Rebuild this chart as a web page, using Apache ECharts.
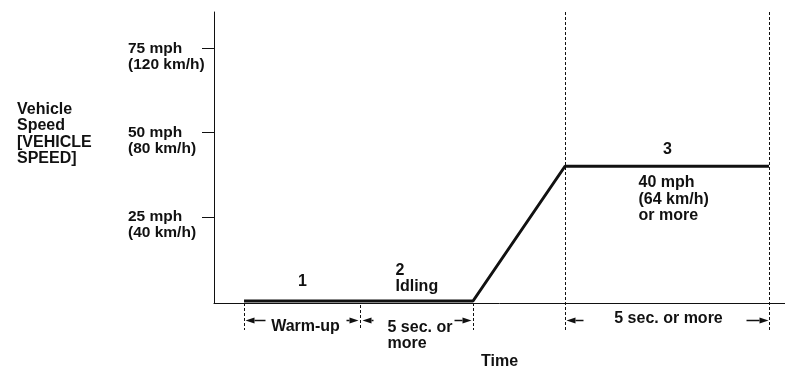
<!DOCTYPE html>
<html>
<head>
<meta charset="utf-8">
<script src="https://cdn.jsdelivr.net/npm/echarts@6/dist/echarts.min.js"></script>
<style>
html,body{margin:0;padding:0;background:#fff;}
#chart{width:785px;height:380px;}
</style>
</head>
<body>
<div id="chart"></div>
<script>
// ---- data ----
const timeValues = [3.0, 25.9, 35.1, 55.5];        // time (arbitrary units)
const speedValues = [0, 0, 40, 40];                // mph
const phaseBounds = [3.0, 14.6, 25.9, 35.1, 55.5]; // phase boundaries in time units
const yTickValues = [25, 50, 75];
const yTickLabels = ['25 mph\n(40 km/h)', '50 mph\n(80 km/h)', '75 mph\n(120 km/h)'];
const yAxisTitle = 'Vehicle\nSpeed\n[VEHICLE\nSPEED]';
const xAxisTitle = 'Time';
const targetSpeedLabel = '40 mph\n(64 km/h)\nor more';

const FONT = 'bold 16px "Liberation Sans", Arial, sans-serif';
const INK = '#111';

const chart = echarts.init(document.getElementById('chart'), null, {renderer: 'canvas'});
const lineData = timeValues.map((t, i) => [t, speedValues[i]]);

chart.setOption({
  animation: false,
  backgroundColor: '#fff',
  grid: {left: 214, right: 0, top: 12, bottom: 77},
  xAxis: {
    type: 'value', min: 0, max: 57.1,
    axisLine: {show: true, onZero: false, lineStyle: {color: INK, width: 1}},
    axisTick: {show: false}, axisLabel: {show: false}, splitLine: {show: false},
    name: xAxisTitle, nameLocation: 'middle', nameGap: 51,
    nameTextStyle: {color: INK, fontSize: 16, fontWeight: 'bold', fontFamily: '"Liberation Sans", Arial'}
  },
  yAxis: {
    type: 'value', min: -0.6, max: 85.8,
    axisLine: {show: true, lineStyle: {color: INK, width: 1}},
    axisTick: {show: true, length: 12, customValues: yTickValues, lineStyle: {color: INK, width: 1}},
    axisLabel: {
      customValues: yTickValues, margin: 86, align: 'left', verticalAlign: 'middle',
      lineHeight: 16,
      color: INK, fontSize: 15.5, fontWeight: 'bold', fontFamily: '"Liberation Sans", Arial',
      formatter: v => { const i = yTickValues.indexOf(v); return i >= 0 ? '\n' + yTickLabels[i] : ''; }
    },
    splitLine: {show: false}
  },
  series: [{
    type: 'line', data: lineData, symbol: 'none', silent: true,
    lineStyle: {color: INK, width: 3}
  }]
});

// ---- annotations derived from the data via the axes ----
const px = phaseBounds.map(t => Math.round(chart.convertToPixel({xAxisIndex: 0}, t)) + 0.5);
const yTop = chart.convertToPixel({yAxisIndex: 0}, 85.8);
const yAxisLine = chart.convertToPixel({yAxisIndex: 0}, -0.6);
const ySpeed = chart.convertToPixel({yAxisIndex: 0}, speedValues[2]);
const dashBottom = 330;
const arrowY = 320.5;

const g = [];
function dash(x, y1, y2) {
  g.push({type: 'line', silent: true, shape: {x1: x, y1: y1, x2: x, y2: y2},
    style: {stroke: INK, lineWidth: 1, lineDash: [3, 2]}});
}
function arrow(tipX, tailX) {
  const dir = tipX > tailX ? 1 : -1;
  const headLen = 9;
  g.push({type: 'line', silent: true, shape: {x1: tailX, y1: arrowY, x2: tipX - dir * headLen, y2: arrowY},
    style: {stroke: INK, lineWidth: 1.5}});
  g.push({type: 'polygon', silent: true,
    shape: {points: [[tipX, arrowY], [tipX - dir * headLen, arrowY - 3], [tipX - dir * headLen, arrowY + 3]]},
    style: {fill: INK}});
}
function text(str, x, y, align, vAlign, lh) {
  g.push({type: 'text', silent: true, x: x, y: y,
    style: {text: str, fill: INK, font: FONT, align: align || 'center', verticalAlign: vAlign || 'middle', lineHeight: lh || 16}});
}

// short dashed lines below axis
dash(px[0], yAxisLine, dashBottom);
dash(px[1], yAxisLine + 2, dashBottom);
dash(px[2], yAxisLine, dashBottom);
// tall dashed lines
dash(px[3], yTop, dashBottom);
dash(px[4], yTop, dashBottom);

// arrows
arrow(px[0] + 1, px[0] + 21);
arrow(px[1] - 2, px[1] - 14);
arrow(px[1] + 2, px[1] + 13);
arrow(px[2] - 2, px[2] - 19);
arrow(px[3] + 1, px[3] + 18);
arrow(px[4] - 1, px[4] - 23);

// phase labels
text('1', (px[0] + px[1]) / 2, 281.5);
text('2\nIdling', px[1] + 35, 278.5, 'left');
text('Warm-up', (px[0] + px[1]) / 2 + 3, 327);
text('5 sec. or\nmore', px[1] + 27, 336, 'left');
text('3', (px[3] + px[4]) / 2, ySpeed - 17);
text(targetSpeedLabel, px[3] + 73, ySpeed + 33, 'left', 'middle', 16.3);
text('5 sec. or more', (px[3] + px[4]) / 2 + 1, 318.5);

// y axis title
text(yAxisTitle, 17, 101.5, 'left', 'top', 16.3);

chart.setOption({graphic: g});
</script>
</body>
</html>
